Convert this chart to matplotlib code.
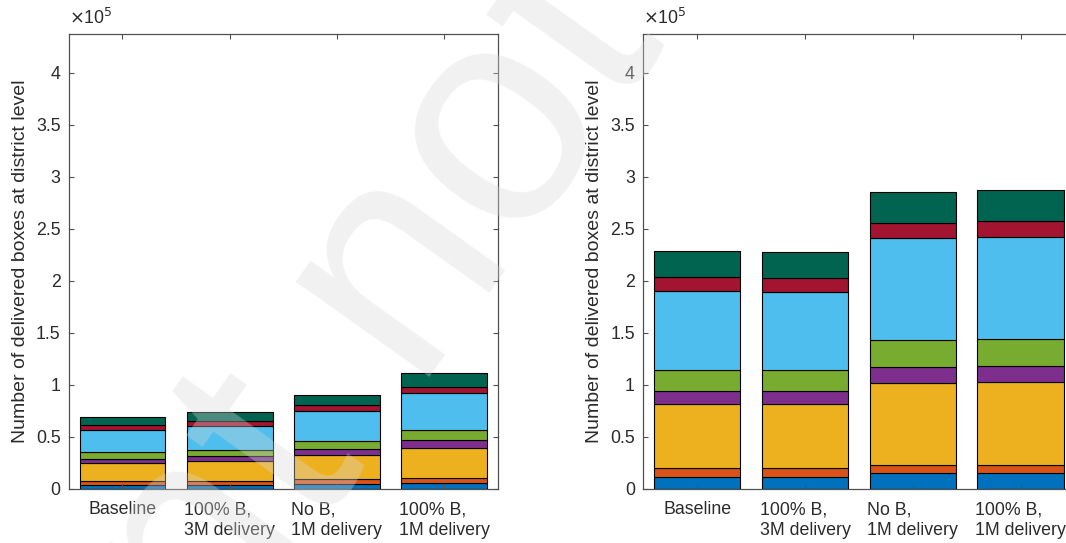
import matplotlib
matplotlib.use("Agg")
import matplotlib.pyplot as plt
from matplotlib.ticker import FuncFormatter
import numpy as np

plt.rcParams['font.family'] = ['Liberation Sans', 'DejaVu Sans']

categories = ["Baseline", "100% B,\n3M delivery", "No B,\n1M delivery", "100% B,\n1M delivery"]

# Left panel: stacked segments (bottom -> top), number of boxes
left_s1 = [3300, 4000, 4700, 5700]
left_s2 = [4400, 3700, 5000, 5000]
left_s3 = [16800, 19300, 22300, 28300]
left_s4 = [4500, 4000, 6200, 7500]
left_s5 = [6200, 6000, 8100, 10000]
left_s6 = [21100, 23300, 28400, 35800]
left_s7 = [4500, 5200, 5300, 5900]
left_s8 = [8200, 8500, 10400, 12800]

# Right panel
right_s1 = [11500, 11500, 14800, 14800]
right_s2 = [8200, 8200, 8200, 8200]
right_s3 = [61300, 61300, 78700, 79700]
right_s4 = [13200, 12500, 15300, 15500]
right_s5 = [19600, 20500, 25700, 25400]
right_s6 = [76200, 75300, 98300, 98800]
right_s7 = [13500, 13500, 14500, 15000]
right_s8 = [25000, 24800, 29500, 29300]

colors = ['#0072BD', '#D95319', '#EDB120', '#7E2F8E', '#77AC30', '#4DBEEE', '#A2142F', '#006450']

ylabel = "Number of delivered boxes at district level"
yticks = [0, 0.5e5, 1e5, 1.5e5, 2e5, 2.5e5, 3e5, 3.5e5, 4e5]
watermark = "Preprint not peer reviewed"

W, H = 1066, 543
fig = plt.figure(figsize=(W / 100, H / 100), dpi=100)

text_col = '#2b2b2b'
axis_col = '#505050'

def panel(rect, segs):
    ax = fig.add_axes(rect)
    x = np.arange(1, len(categories) + 1)
    bottom = np.zeros(len(categories))
    for seg, c in zip(segs, colors):
        v = np.array(seg, dtype=float)
        ax.bar(x, v, width=0.8, bottom=bottom, color=c, edgecolor='black', linewidth=0.8, zorder=1)
        bottom += v
    ax.set_xlim(0.5, 4.5)
    ax.set_ylim(0, 4.375e5)
    ax.set_xticks(x)
    ax.set_xticklabels(categories, multialignment='left', fontsize=12.8, color=text_col, linespacing=1.3)
    ax.set_yticks(yticks)
    ax.yaxis.set_major_formatter(FuncFormatter(lambda v, p: '{:g}'.format(v / 1e5)))
    ax.tick_params(direction='in', top=True, right=True, length=3.5, width=0.8, color=axis_col,
                   labelsize=12.8, labelcolor=text_col)
    ax.tick_params(axis='x', pad=9)
    ax.tick_params(axis='y', pad=6)
    for s in ax.spines.values():
        s.set_color(axis_col)
        s.set_linewidth(0.9)
    ax.set_ylabel(ylabel, fontsize=14, color=text_col, labelpad=5)
    ax.text(0.0, 1.012, r'$\times$10$^{5}$', transform=ax.transAxes, ha='left', va='bottom',
            fontsize=12.8, color=text_col)
    return ax

bottom_f = 54.3 / H
height_f = (509.4 - 54.3) / H
ax1 = panel([68.9 / W, bottom_f, 428.7 / W, height_f],
            [left_s1, left_s2, left_s3, left_s4, left_s5, left_s6, left_s7, left_s8])
ax2 = panel([643.3 / W, bottom_f, 431.2 / W, height_f],
            [right_s1, right_s2, right_s3, right_s4, right_s5, right_s6, right_s7, right_s8])

# faint diagonal watermark
fig.text(-262 / W, -804 / H, watermark, rotation=54.5, rotation_mode='anchor',
         ha='left', va='baseline', fontsize=223, color=(0.85, 0.85, 0.85), alpha=0.35, zorder=10)

fig.savefig("out.png", dpi=100)
